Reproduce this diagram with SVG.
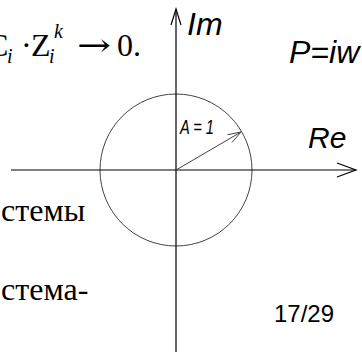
<svg xmlns="http://www.w3.org/2000/svg" width="362" height="352" viewBox="0 0 362 352">
<style>
.ser{font-family:"Liberation Serif","DejaVu Serif",serif;fill:#000}
.san{font-family:"Liberation Sans",Arial,sans-serif;fill:#000}
.it{font-style:italic}
.ax{stroke:#000;stroke-width:1.2;fill:none}
.thin{stroke:#444;stroke-width:1;fill:none}
</style>
<rect width="362" height="352" fill="#fff"/>
<g id="formula" class="ser" font-size="32">
<text x="-13" y="56">C</text>
<text x="7" y="63" font-size="20" class="it">i</text>
<text x="21" y="56">·</text>
<text x="31" y="56">Z</text>
<text x="54" y="38" font-size="20" class="it">k</text>
<text x="49" y="63" font-size="20" class="it">i</text>
<text x="77" y="56" font-family="DejaVu Serif" textLength="34" lengthAdjust="spacingAndGlyphs">→</text>
<text x="117" y="56">0.</text>
</g>
<g id="circle"><circle cx="176" cy="170" r="76" class="thin"/></g>
<g id="connectors">
<line x1="11" y1="170" x2="356" y2="170" class="ax"/>
<path d="M337,163 L356,170 L337,177" class="ax"/>
<line x1="176" y1="352" x2="176" y2="9" class="ax"/>
<path d="M171,25 L176,9 L181,25" class="ax"/>
<line x1="176" y1="170" x2="241" y2="132" class="thin"/>
<path d="M227.5,134.7 L241,132 L232,142.5" class="thin"/>
</g>
<g id="labels">
<text x="187" y="35" font-size="32" class="san it">Im</text>
<text x="289" y="63" font-size="32" class="san it">P=iw</text>
<text x="308" y="148" font-size="30" class="san it">Re</text>
<text x="180" y="134" font-size="21" class="san it" textLength="34" lengthAdjust="spacingAndGlyphs">A = 1</text>
<text x="274" y="322" font-size="24" class="san">17/29</text>
</g>
<g id="body" class="ser" font-size="32">
<text x="1" y="221">стемы</text>
<text x="1" y="300">стема-</text>
</g>
</svg>
